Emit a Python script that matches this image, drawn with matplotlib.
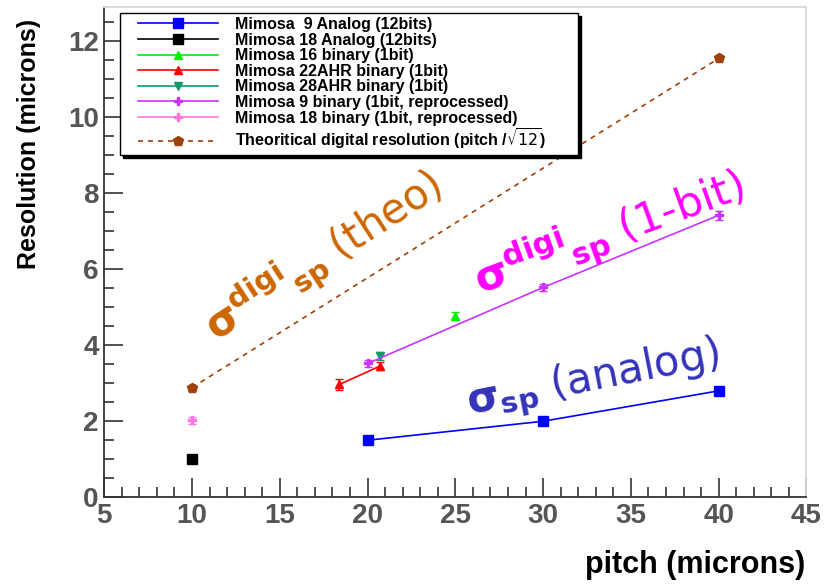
import numpy as np
import matplotlib
matplotlib.use("Agg")
import matplotlib.pyplot as plt
from matplotlib.ticker import MultipleLocator
from matplotlib.lines import Line2D
from matplotlib.legend_handler import HandlerLine2D

plt.rcParams['font.family'] = ['Liberation Sans', 'DejaVu Sans']
plt.rcParams['mathtext.fontset'] = 'dejavusans'

# data
m9_ana_x = [20, 30, 40]
m9_ana_y = [1.5, 2.0, 2.8]
m18_ana_x = [10]
m18_ana_y = [1.0]
m16_x = [25]
m16_y = [4.78]
m16_err = [0.1]
m22_x = [18.4, 20.7]
m22_y = [2.97, 3.45]
m22_err = [0.15, 0.1]
m28_x = [20.7]
m28_y = [3.72]
m28_err = [0.1]
m9_bin_x = [20, 30, 40]
m9_bin_y = [3.52, 5.52, 7.42]
m9_bin_err = [0.1, 0.08, 0.12]
m18_bin_x = [10]
m18_bin_y = [2.02]
m18_bin_err = [0.1]
theo_x = [10, 40]
theo_y = [2.887, 11.547]

labels = ["Mimosa  9 Analog (12bits)", "Mimosa 18 Analog (12bits)",
          "Mimosa 16 binary (1bit)", "Mimosa 22AHR binary (1bit)",
          "Mimosa 28AHR binary (1bit)", "Mimosa 9 binary (1bit, reprocessed)",
          "Mimosa 18 binary (1bit, reprocessed)",
          r"Theoritical digital resolution (pitch /$\sqrt{12}$)"]

fig = plt.figure(figsize=(8.34, 5.85), dpi=100)
ax = fig.add_axes([0.125, 0.150, 0.842, 0.838])

c_blue = '#0000ff'
c_green = '#00ee00'
c_red = '#ff0000'
c_teal = '#109a68'
c_purple = '#cc33ff'
c_pink = '#ff77dd'
c_brown = '#a0400a'

h = []
h += ax.plot(m9_ana_x, m9_ana_y, '-', color=c_blue, marker='s', ms=7, lw=1.2)
h += ax.plot(m18_ana_x, m18_ana_y, '-', color='black', marker='s', ms=7, lw=1.2)
for x, y, e, c, m in [(m16_x, m16_y, m16_err, c_green, '^'),
                      (m22_x, m22_y, m22_err, c_red, '^'),
                      (m28_x, m28_y, m28_err, c_teal, 'v'),
                      (m9_bin_x, m9_bin_y, m9_bin_err, c_purple, 'P'),
                      (m18_bin_x, m18_bin_y, m18_bin_err, c_pink, 'P')]:
    ax.errorbar(x, y, yerr=e, fmt='none', ecolor=c, capsize=3, lw=1.2)
    h += ax.plot(x, y, '-', color=c, marker=m, ms=6, lw=1.2)
h += ax.plot(theo_x, theo_y, '--', color=c_brown, marker='p', ms=7, lw=1.2,
             dashes=(3, 3))

ax.set_xlim(5, 45)
ax.set_ylim(0, 12.9)
ax.xaxis.set_major_locator(MultipleLocator(5))
ax.xaxis.set_minor_locator(MultipleLocator(1))
ax.yaxis.set_major_locator(MultipleLocator(2))
ax.yaxis.set_minor_locator(MultipleLocator(0.5))
ax.tick_params(which='both', direction='in', top=False, right=False,
               labelsize=20, labelcolor='#555555', color='#333333', width=1.2)
ax.tick_params(which='major', length=14, pad=4)
ax.tick_params(which='minor', length=7)
for t in ax.get_xticklabels() + ax.get_yticklabels():
    t.set_fontweight('bold')
for s in ['left', 'bottom']:
    ax.spines[s].set_color('#333333')
    ax.spines[s].set_linewidth(1.3)
for s in ['top', 'right']:
    ax.spines[s].set_color('#d8d8d8')
    ax.spines[s].set_linewidth(1.3)

ax.set_ylabel("Resolution (microns)", fontsize=18, fontweight='bold')
ax.yaxis.set_label_coords(-0.09, 0.72)
fig.text(0.966, 0.035, "pitch (microns)", fontsize=22, fontweight='bold',
         ha='right', va='center')

leg = fig.legend(h, labels, loc='upper left',
                 bbox_to_anchor=(0.144, 0.75, 0.549, 0.228), mode='expand',
                 borderaxespad=0,
                 prop={'weight': 'bold', 'size': 11.5}, handlelength=5.9,
                 handletextpad=1.05, labelspacing=0.04, borderpad=0.25,
                 handler_map={Line2D: HandlerLine2D(xpad=0.875)},
                 fancybox=False, edgecolor='black', framealpha=1,
                 shadow={'color': 'black', 'alpha': 1})
leg.get_frame().set_linewidth(1.0)

ax.text(11.35, 4.1, r'$\mathbf{\sigma^{digi}{}_{sp}}$ (theo)',
        fontsize=30, color='#cc6600', rotation=33, rotation_mode='anchor',
        ha='left', va='baseline', family='DejaVu Sans')
ax.text(26.4, 5.35, r'$\mathbf{\sigma^{digi}{}_{sp}}$ (1-bit)',
        fontsize=31, color='#ff00ff', rotation=20, rotation_mode='anchor',
        ha='left', va='baseline', family='DejaVu Sans')
ax.text(25.8, 2.17, r'$\mathbf{\sigma_{sp}}$ (analog)',
        fontsize=30, color='#3333bb', rotation=11, rotation_mode='anchor',
        ha='left', va='baseline', family='DejaVu Sans')

fig.savefig("out.png", dpi=100)
